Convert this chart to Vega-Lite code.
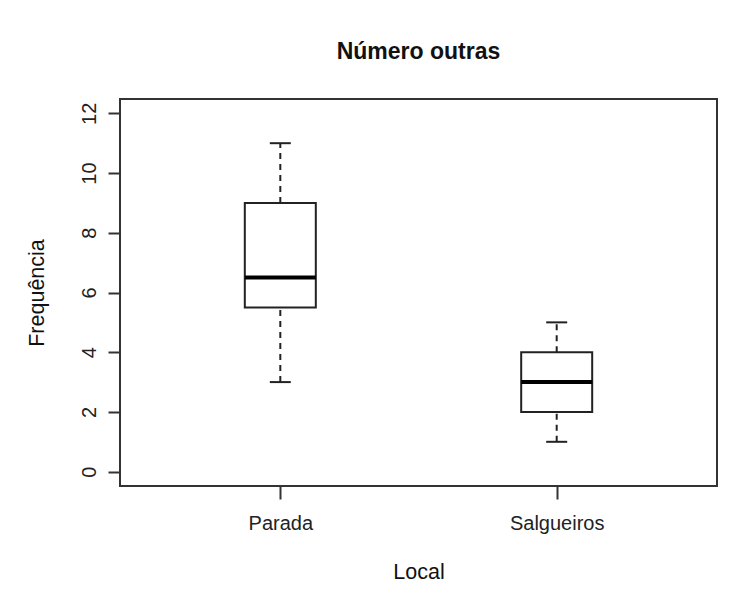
{
  "$schema": "https://vega.github.io/schema/vega-lite/v6.json",
  "width": 597,
  "height": 387,
  "autosize": "none",
  "padding": {"left": 120, "top": 99, "right": 28, "bottom": 108},
  "background": "white",
  "title": {
    "text": "Número outras",
    "fontSize": 23,
    "fontWeight": "bold",
    "font": "Liberation Sans",
    "color": "#111",
    "anchor": "middle",
    "frame": "group",
    "baseline": "alphabetic",
    "offset": 17
  },
  "config": {
    "view": {"stroke": "#333", "strokeWidth": 2},
    "axis": {
      "grid": false,
      "domain": false,
      "tickColor": "#333",
      "tickWidth": 2,
      "labelFont": "Liberation Sans",
      "labelFontSize": 20,
      "labelColor": "#222",
      "titleFont": "Liberation Sans",
      "titleFontSize": 21.5,
      "titleFontWeight": "normal",
      "titleColor": "#111"
    }
  },
  "data": {
    "values": [
      {"local": "Parada", "min": 3, "q1": 5.5, "median": 6.5, "q3": 9, "max": 11},
      {"local": "Salgueiros", "min": 1, "q1": 2, "median": 3, "q3": 4, "max": 5}
    ]
  },
  "encoding": {
    "x": {
      "field": "local",
      "type": "nominal",
      "sort": null,
      "scale": {"type": "point", "padding": 0.58},
      "axis": {
        "title": "Local",
        "labelAngle": 0,
        "tickSize": 13,
        "labelPadding": 30,
        "labelBaseline": "alphabetic",
        "titleBaseline": "alphabetic",
        "titleY": 92
      }
    }
  },
  "layer": [
    {
      "mark": {"type": "rule", "strokeDash": [6, 5], "strokeWidth": 2, "color": "#222"},
      "encoding": {
        "y": {
          "field": "min",
          "type": "quantitative",
          "scale": {"domain": [-0.48, 12.48], "nice": false, "zero": false},
          "axis": {
            "title": "Frequência",
            "values": [0, 2, 4, 6, 8, 10, 12],
            "tickSize": 12,
            "labelAngle": -90,
            "labelAlign": "center",
            "labelBaseline": "alphabetic",
            "labelPadding": 12.8,
            "titleAngle": -90,
            "titleAlign": "center",
            "titleBaseline": "alphabetic",
            "titleX": -77,
            "titleY": 193.5
          }
        },
        "y2": {"field": "q1"}
      }
    },
    {
      "mark": {"type": "rule", "strokeDash": [6, 5], "strokeWidth": 2, "color": "#222"},
      "encoding": {
        "y": {"field": "q3", "type": "quantitative"},
        "y2": {"field": "max"}
      }
    },
    {
      "mark": {"type": "bar", "size": 71, "fill": "white", "stroke": "#222", "strokeWidth": 2},
      "encoding": {
        "y": {"field": "q1", "type": "quantitative"},
        "y2": {"field": "q3"}
      }
    },
    {
      "mark": {"type": "tick", "size": 71, "thickness": 4, "color": "#000", "opacity": 1},
      "encoding": {
        "y": {"field": "median", "type": "quantitative"}
      }
    },
    {
      "mark": {"type": "tick", "size": 21, "thickness": 2, "color": "#222", "opacity": 1},
      "encoding": {
        "y": {"field": "min", "type": "quantitative"}
      }
    },
    {
      "mark": {"type": "tick", "size": 21, "thickness": 2, "color": "#222", "opacity": 1},
      "encoding": {
        "y": {"field": "max", "type": "quantitative"}
      }
    }
  ]
}
